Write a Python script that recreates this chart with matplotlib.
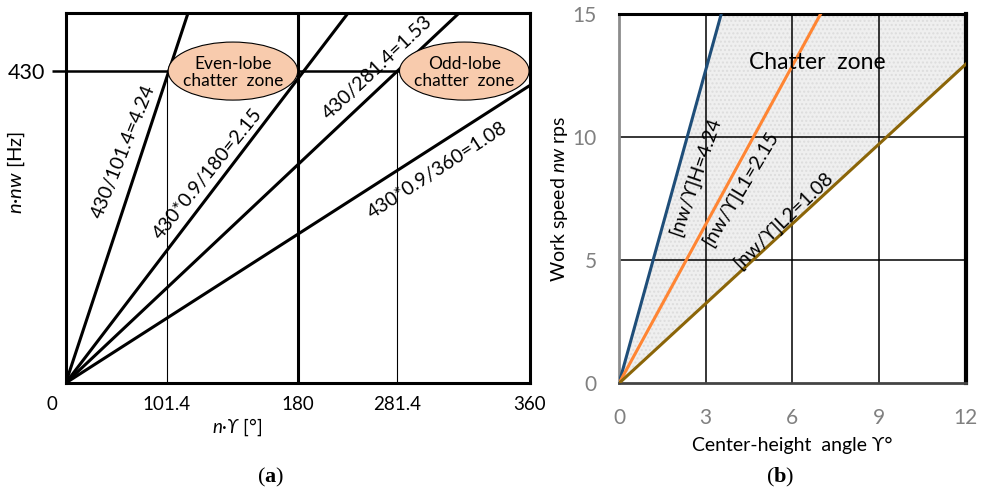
import numpy as np
import matplotlib
matplotlib.use("Agg")
from matplotlib import pyplot as plt
from matplotlib import patches
from matplotlib.transforms import ScaledTranslation

plt.rcParams['font.family'] = ['Lato', 'DejaVu Sans']
plt.rcParams['mathtext.fontset'] = 'custom'
plt.rcParams['mathtext.rm'] = 'Lato'
plt.rcParams['mathtext.it'] = 'Lato:italic'
plt.rcParams['mathtext.bf'] = 'Liberation Serif:bold'

# (a) 示意图: 横轴不是线性的, 刻度放在示意位置
a_tick_pos = [0, 78.5, 180, 257.3, 360]
a_tick_lbl = ['0', '101.4', '180', '281.4', '360']
a_freq = 430
# 各直线在 430Hz 处对应的示意横坐标
a_line_x430 = [80.0, 184.7, 257.3, 377.5]
a_line_lbl = ['430/101.4=4.24', '430*0.9/180=2.15', '430/281.4=1.53', '430*0.9/360=1.08']
a_zone_x = [129.7, 309.2]
a_zone_lbl = ['Even-lobe\nchatter  zone', 'Odd-lobe\nchatter  zone']

# (b) 颤振区
b_gamma_ticks = [0, 3, 6, 9, 12]
b_speed_ticks = [0, 5, 10, 15]
b_ratio = [4.24, 2.15, 1.08]
b_ratio_lbl = ['[nw/ϒ]H=4.24', '[nw/ϒ]L1=2.15', '[nw/ϒ]L2=1.08']
b_colors = ['#1F4E79', '#FF8533', '#8B6508']

fig = plt.figure(figsize=(9.81, 4.92), dpi=100)

# ---------- (a) ----------
ax = fig.add_axes([0.067, 0.2215, 0.473, 0.752])
ax.set_xlim(0, 360)
ax.set_ylim(0, 510)
for s in ax.spines.values():
    s.set_linewidth(2.2)
ax.axhline(a_freq, color='k', lw=1.8, zorder=1)
ax.axvline(a_tick_pos[2], color='k', lw=2.2, zorder=1)
for xp in (a_tick_pos[1], a_tick_pos[3]):
    ax.plot([xp, xp], [0, a_freq], color='k', lw=0.8, zorder=1)
xs = np.linspace(0, 360, 200)
for x430 in a_line_x430:
    ax.plot(xs, a_freq * xs / x430, color='k', lw=2.2, zorder=2, solid_capstyle='butt')
for cx, txt in zip(a_zone_x, a_zone_lbl):
    ax.add_patch(patches.Ellipse((cx, a_freq), 100.5, 80, facecolor='#F8CBAD',
                                 edgecolor='k', lw=0.8, zorder=3))
    ax.text(cx, a_freq - 2, txt, ha='center', va='center', fontsize=12.5,
            linespacing=1.1, zorder=4)
lbl_pos = [(44.4, 319, 68), (110.4, 288, 51), (242.2, 435, 43), (288, 293, 33)]
for (tx, ty, rot), txt in zip(lbl_pos, a_line_lbl):
    ax.text(tx, ty, txt, rotation=rot, ha='center', va='center', fontsize=14, zorder=4)
ax.set_xticks(a_tick_pos)
ax.set_xticklabels(a_tick_lbl, fontsize=13.5)
ax.tick_params(axis='x', length=0, pad=9)
ax.set_yticks([a_freq])
ax.set_yticklabels([str(a_freq)], fontsize=15.5)
ax.tick_params(axis='y', length=10, width=1.8, pad=5)
lb0 = ax.get_xticklabels()[0]
lb0.set_horizontalalignment('right')
lb0.set_transform(lb0.get_transform() + ScaledTranslation(-8 / 100, 0, fig.dpi_scale_trans))
ax.set_xlabel('$n$·$ϒ$ [°]', fontsize=13.5, labelpad=2)
ax.xaxis.set_label_coords(0.37, -0.09)
ax.set_ylabel('$n$·$nw$ [Hz]', fontsize=14.5, labelpad=0)
ax.yaxis.set_label_coords(-0.083, 0.57)

# ---------- (b) ----------
bx = fig.add_axes([0.631, 0.2209, 0.3534, 0.7506])
bx.set_xlim(0, 12)
bx.set_ylim(0, 15)
g = np.linspace(0, 12, 400)
bx.fill_between(g, b_ratio[2] * g, np.minimum(b_ratio[0] * g, 15),
                facecolor='#EFEFEF', edgecolor='#DDDDDD', hatch='....', lw=0, zorder=1)
for v in b_gamma_ticks[1:-1]:
    bx.axvline(v, color='k', lw=1.1, zorder=2)
for v in b_speed_ticks[1:-1]:
    bx.axhline(v, color='k', lw=1.1, zorder=2)
for r, c in zip(b_ratio, b_colors):
    bx.plot(g, r * g, color=c, lw=2.2, zorder=3)
b_pos = [(2.63, 8.4, 71), (4.22, 7.9, 59), (5.68, 6.6, 44)]
for (tx, ty, rot), txt in zip(b_pos, b_ratio_lbl):
    bx.text(tx, ty, txt, rotation=rot, ha='center', va='center', fontsize=14, zorder=4)
bx.text(6.85, 13.05, 'Chatter  zone', ha='center', va='center', fontsize=16.5, zorder=4)
bx.spines['left'].set_color('#8C8C8C')
bx.spines['left'].set_linewidth(2)
bx.spines['bottom'].set_color('#444444')
bx.spines['bottom'].set_linewidth(2)
bx.spines['top'].set_linewidth(2.2)
bx.spines['right'].set_linewidth(3)
bx.set_xticks(b_gamma_ticks)
bx.set_yticks(b_speed_ticks)
bx.tick_params(length=0, labelsize=15, labelcolor='#808080')
bx.tick_params(axis='x', pad=18)
bx.tick_params(axis='y', pad=16)
bx.set_xlabel('Center-height  angle ϒ°', fontsize=14, labelpad=6)
bx.set_ylabel('Work speed $nw$ rps', fontsize=14, labelpad=2)

fig.text(0.276, 0.03, r'($\mathbf{a}$)', ha='center', va='center', fontsize=16,
         family='Liberation Serif')
fig.text(0.795, 0.03, r'($\mathbf{b}$)', ha='center', va='center', fontsize=16,
         family='Liberation Serif')

fig.savefig('out.png', dpi=100)
